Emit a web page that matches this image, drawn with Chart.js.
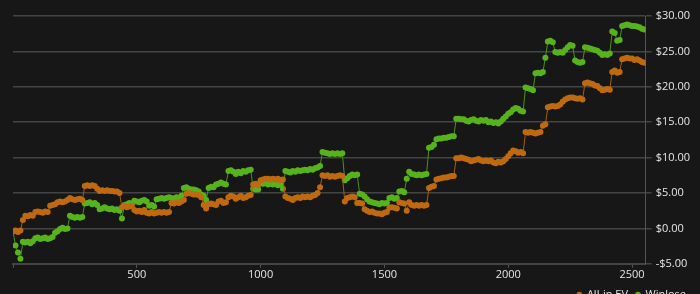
<!DOCTYPE html>
<html>
<head>
<meta charset="utf-8">
<script src="https://cdn.jsdelivr.net/npm/chart.js@4.4.1/dist/chart.umd.min.js"></script>
<style>
  html, body { margin: 0; padding: 0; background: #171717; overflow: hidden; }
  #wrap { width: 700px; height: 310px; position: relative; }
</style>
</head>
<body>
<div id="wrap"><canvas id="chart"></canvas></div>
<script>
// one sample every 10 hands, starting at hand 0
var HAND_STEP = 10;

var xTicks = [0, 500, 1000, 1500, 2000, 2500];

var allInEv = [
    -0.4,-0.3,-0.5,-0.3,1.2,1.8,1.7,1.9,1.8,2.3,
    2.4,2.3,2.2,2.4,2.3,3.2,3.3,3.4,3.7,3.8,
    3.7,3.8,4.0,4.3,4.1,4.0,4.1,4.2,4.0,6.0,
    6.1,6.0,6.1,6.0,5.6,5.3,5.4,5.3,5.4,5.3,
    5.3,5.2,5.2,5.0,3.0,3.2,3.0,3.1,3.2,2.6,
    2.4,2.5,2.3,2.6,2.2,2.1,2.3,2.1,2.2,2.3,
    2.2,2.3,2.2,2.3,3.6,3.5,3.7,3.6,3.8,4.0,
    4.9,5.0,4.9,4.8,4.8,4.7,4.4,3.3,2.8,3.4,
    3.5,3.4,3.3,3.8,3.9,3.6,3.7,4.4,4.6,4.5,
    4.2,4.4,4.6,4.3,4.4,4.6,4.7,6.2,6.3,6.1,
    6.8,6.9,7.0,7.0,6.9,7.0,6.9,7.0,6.8,6.9,
    4.5,4.3,4.2,4.0,4.3,4.4,4.3,4.5,4.4,4.5,
    4.4,4.6,4.7,5.0,5.8,7.5,7.4,7.5,7.3,7.4,
    7.3,7.4,7.5,7.4,3.8,4.3,4.4,4.5,4.4,3.6,
    3.6,3.5,2.7,2.5,2.3,2.4,2.2,2.1,2.1,2.0,
    2.2,2.3,2.9,3.0,2.9,2.8,3.7,3.6,3.5,2.5,
    3.7,3.3,3.2,3.3,3.2,3.3,3.2,3.3,5.7,5.9,
    6.0,6.9,7.0,7.1,7.2,7.2,7.3,7.4,7.4,9.9,
    9.9,10.0,9.9,9.8,9.7,9.5,9.6,9.7,9.8,9.6,
    9.5,9.6,9.5,9.6,9.3,9.2,9.4,9.3,9.5,9.8,
    10.2,10.6,11.0,10.9,10.7,10.8,10.6,13.6,13.5,13.6,
    13.5,13.4,13.5,13.6,14.5,14.7,17.1,17.2,17.3,17.2,
    17.3,17.5,17.9,18.2,18.4,18.5,18.5,18.4,18.3,18.4,
    18.2,20.5,20.6,20.5,20.4,20.2,20.1,19.8,19.5,19.6,
    19.7,19.6,22.1,22.3,22.0,22.1,23.9,24.0,24.1,24.0,
    24.0,23.8,23.9,23.7,23.5,23.4
];

var winlose = [
    -0.4,-2.4,-3.4,-4.3,-1.9,-2.0,-1.9,-2.1,-1.8,-1.4,
    -1.3,-1.5,-1.4,-1.3,-1.5,-1.4,-1.2,-0.6,-0.4,-0.1,
    0.1,-0.1,0.0,1.8,1.6,1.5,1.6,1.5,1.6,3.5,
    3.6,3.7,3.4,3.6,3.3,2.7,2.8,3.0,2.8,2.7,
    2.8,2.6,2.7,2.5,1.4,3.3,3.4,3.6,3.5,3.9,
    3.8,3.7,3.9,4.0,3.8,3.2,3.3,3.1,4.1,4.2,
    4.3,4.2,4.3,4.4,4.3,4.2,4.4,4.3,4.6,5.7,
    5.8,5.6,5.5,5.5,5.4,5.2,4.8,4.6,4.0,5.7,
    5.9,5.8,6.2,6.3,6.5,6.3,6.2,8.1,8.2,8.0,
    7.7,8.0,7.8,8.1,8.0,8.2,8.3,5.6,5.5,5.5,
    6.4,6.3,6.4,6.2,6.3,6.2,6.3,6.1,6.2,5.6,
    8.1,8.0,7.9,8.1,8.0,8.2,8.1,8.2,8.3,8.2,
    8.4,8.3,8.5,8.6,8.8,10.8,10.7,10.6,10.5,10.6,
    10.5,10.6,10.5,10.6,6.8,7.1,7.4,7.6,7.5,7.6,
    4.9,4.8,4.5,4.1,3.8,3.7,3.6,3.5,3.4,3.6,
    3.5,3.6,4.3,4.4,4.2,4.3,5.2,5.3,5.1,7.0,
    8.0,7.7,7.6,7.5,7.6,7.5,7.6,7.7,11.4,11.5,
    11.8,12.6,12.7,12.7,12.8,12.8,12.9,13.0,13.0,15.5,
    15.5,15.4,15.4,15.2,15.1,15.3,15.4,15.2,15.1,15.3,
    15.2,15.3,15.0,15.1,14.9,15.0,14.8,15.1,15.5,15.8,
    16.2,16.4,16.8,17.0,16.9,16.6,16.5,19.9,19.8,19.7,
    19.5,21.9,22.0,21.9,22.1,24.1,26.4,26.5,26.3,24.9,
    24.8,24.9,24.8,25.2,25.6,25.9,25.8,23.7,23.5,23.4,
    23.5,25.6,25.5,25.4,25.3,25.2,25.1,24.8,24.5,24.6,
    24.5,24.7,27.8,27.6,26.5,26.6,28.6,28.7,28.8,28.7,
    28.6,28.6,28.5,28.4,28.2,28.1
];

var hands = allInEv.map(function(v, i) { return i * HAND_STEP; });

function toPoints(values) {
    return values.map(function(v, i) { return {x: hands[i], y: v}; });
}

function money(v) {
    return (v < 0 ? '-$' : '$') + Math.abs(v).toFixed(2);
}

var ctx = document.getElementById('chart').getContext('2d');
Chart.defaults.font.family = '"Open Sans", "Noto Sans", sans-serif';
Chart.defaults.font.size = 11;
Chart.defaults.color = '#e6e6e6';

var chart = new Chart(ctx, {
    type: 'line',
    data: {
        datasets: [{
            label: 'All-in EV',
            data: toPoints(allInEv),
            borderColor: '#a85e10',
            backgroundColor: '#bf6a10',
            borderWidth: 1,
            pointRadius: 3,
            pointBorderWidth: 0,
            pointHoverRadius: 3
        }, {
            label: 'Winlose',
            data: toPoints(winlose),
            borderColor: '#4a931b',
            backgroundColor: '#57b31d',
            borderWidth: 1,
            pointRadius: 3,
            pointBorderWidth: 0,
            pointHoverRadius: 3
        }]
    },
    options: {
        responsive: true,
        maintainAspectRatio: false,
        animation: false,
        layout: { padding: { left: 13, right: 6, top: 16, bottom: 0 } },
        plugins: {
            tooltip: { enabled: false },
            legend: {
                position: 'bottom',
                align: 'end',
                labels: {
                    usePointStyle: true,
                    pointStyle: 'circle',
                    boxWidth: 4,
                    boxHeight: 4,
                    padding: 8,
                    color: '#e6e6e6'
                }
            }
        },
        scales: {
            x: {
                type: 'linear',
                min: 0,
                max: 2555,
                afterBuildTicks: function(scale) {
                    scale.ticks = xTicks.map(function(v) { return {value: v}; });
                },
                ticks: {
                    maxRotation: 0,
                    padding: 0,
                    autoSkip: false,
                    callback: function(v) { return v === 0 ? '' : v; }
                },
                grid: { drawOnChartArea: false, color: '#555', tickLength: 4 },
                border: { color: '#444', width: 2 }
            },
            y: {
                position: 'right',
                min: -5,
                max: 30,
                ticks: { stepSize: 5, padding: 4, callback: money },
                grid: { color: '#444', lineWidth: 1.5, tickLength: 6 },
                border: { color: '#555', width: 1 }
            }
        }
    }
});
</script>
</body>
</html>
